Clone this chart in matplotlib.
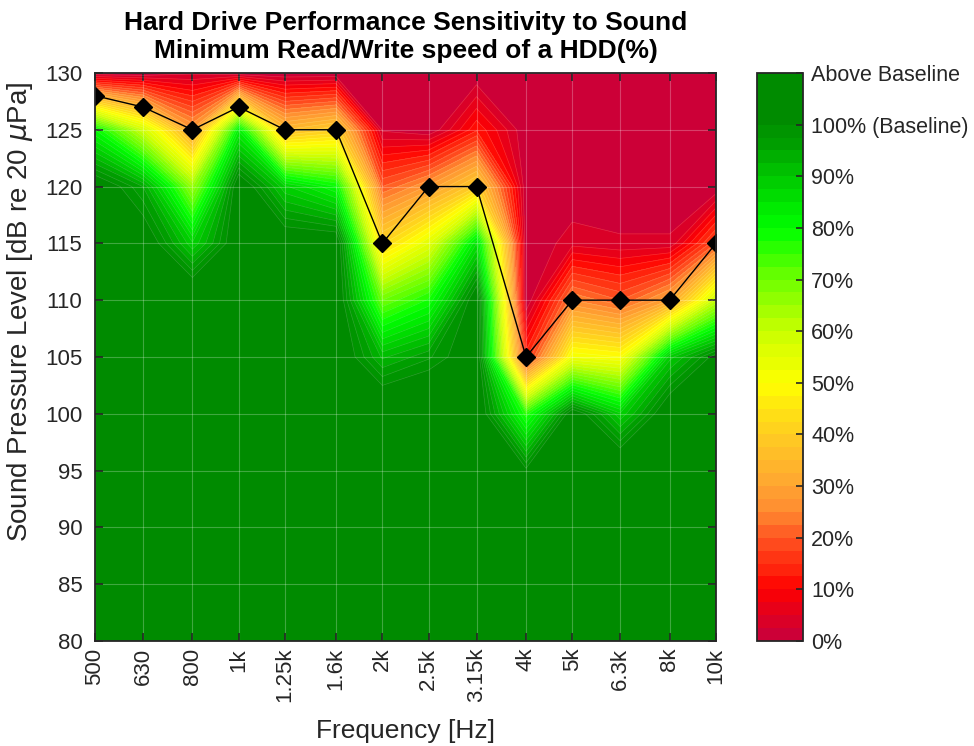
import numpy as np
import matplotlib
matplotlib.use("Agg")
import matplotlib.pyplot as plt
from matplotlib.colors import LinearSegmentedColormap
from matplotlib.ticker import NullLocator

plt.rcParams['font.family'] = ['Liberation Sans', 'DejaVu Sans']

# 1/3-octave bands and sound pressure levels
freqs = [500, 630, 800, 1000, 1250, 1600, 2000, 2500, 3150, 4000, 5000, 6300, 8000, 10000]
freq_labels = ['500', '630', '800', '1k', '1.25k', '1.6k', '2k', '2.5k', '3.15k',
               '4k', '5k', '6.3k', '8k', '10k']
spl = [80, 85, 90, 95, 100, 105, 110, 115, 120, 125, 130]

# minimum read/write speed (% of baseline), one list per frequency, from 80 dB to 130 dB
speed_500 = [105, 105, 105, 105, 105, 105, 105, 105, 105, 80, 0]
speed_630 = [105, 105, 105, 105, 105, 105, 105, 105, 95, 58, 0]
speed_800 = [105, 105, 105, 105, 105, 105, 108, 88, 65, 28, 2]
speed_1k = [105, 105, 105, 105, 105, 105, 105, 105, 105, 82, 0]
speed_1k25 = [105, 105, 105, 105, 105, 105, 105, 105, 88, 35, 0]
speed_1k6 = [105, 105, 105, 105, 105, 105, 105, 105, 80, 40, 0]
speed_2k = [105, 105, 105, 105, 108, 92, 70, 42, 20, 2, 0]
speed_2k5 = [105, 105, 105, 105, 110, 97, 78, 55, 28, 0, 0]
speed_3k15 = [105, 105, 105, 105, 105, 105, 105, 85, 40, 12, 0]
speed_4k = [105, 105, 105, 101, 76, 14, 0, 0, 0, 0, 0]
speed_5k = [105, 105, 105, 105, 104, 52, 25, 4, 0, 0, 0]
speed_6k3 = [105, 105, 105, 108, 88, 50, 20, 3, 0, 0, 0]
speed_8k = [105, 105, 105, 105, 106, 89, 30, 3, 0, 0, 0]
speed_10k = [105, 105, 105, 105, 105, 102, 60, 20, 0, 0, 0]

# minimum level (dB) marked with diamonds
threshold = [128, 127, 125, 127, 125, 125, 115, 120, 120, 105, 110, 110, 110, 115]

columns = [speed_500, speed_630, speed_800, speed_1k, speed_1k25, speed_1k6, speed_2k,
           speed_2k5, speed_3k15, speed_4k, speed_5k, speed_6k3, speed_8k, speed_10k]
Z = np.array(columns).T  # rows = spl, cols = freq

# red -> yellow -> green colour scale, 0..110 %
anchors = [
    (0, '#C8003C'), (5, '#E2001E'), (10, '#FF0000'), (15, '#FF2E10'),
    (20, '#FF5522'), (25, '#FF8A30'), (30, '#FFA632'), (40, '#FFCC22'),
    (50, '#FFFF00'), (60, '#C8FF00'), (70, '#70FF00'), (80, '#00FF00'),
    (90, '#00C800'), (97, '#009C00'), (100, '#009000'), (105, '#008C00'),
    (110, '#007800'),
]
cmap = LinearSegmentedColormap.from_list('hdd', [(v / 110, c) for v, c in anchors])
levels = list(np.arange(0, 100.1, 2.5)) + [110]

fig = plt.figure(figsize=(9.74, 7.46), dpi=100)
ax = fig.add_axes([0.0975, 0.1408, 0.6376, 0.7614])
cax = fig.add_axes([0.777, 0.1408, 0.0472, 0.7614])

cs = ax.contourf(freqs, spl, Z, levels=levels, cmap=cmap, vmin=0, vmax=110)
ax.contour(freqs, spl, Z, levels=levels[1:-1], colors='white', linewidths=0.5, alpha=0.18)
ax.plot(freqs, threshold, color='black', linewidth=1, marker='D',
        markersize=9, markerfacecolor='black', markeredgecolor='black')

ax.set_xscale('log')
ax.set_xlim(500, 10000)
ax.set_ylim(80, 130)
ax.set_xticks(freqs)
ax.set_xticklabels(freq_labels, rotation=90, fontsize=16)
ax.xaxis.set_minor_locator(NullLocator())
ax.set_yticks(np.arange(80, 131, 5))
ax.tick_params(axis='y', labelsize=16, pad=9)
ax.tick_params(axis='x', pad=5)
ax.tick_params(direction='in', top=True, right=True, length=6, width=1.2, colors='#262626')
ax.grid(True, color='white', alpha=0.25, linewidth=0.8)
for s in ax.spines.values():
    s.set_color('#262626')
    s.set_linewidth(1.3)

ax.set_xlabel('Frequency [Hz]', fontsize=19, color='#262626', labelpad=12)
ax.set_ylabel(r'Sound Pressure Level [dB re 20 $\mu$Pa]', fontsize=20, color='#262626')
ax.yaxis.set_label_coords(-0.097, 0.58)
ax.set_title('Hard Drive Performance Sensitivity to Sound\nMinimum Read/Write speed of a HDD(%)',
             fontsize=19, fontweight='bold', linespacing=1.2, pad=11)

cb = fig.colorbar(cs, cax=cax, spacing='proportional')
cb.set_ticks([0, 10, 20, 30, 40, 50, 60, 70, 80, 90, 100, 110])
cb.set_ticklabels(['0%', '10%', '20%', '30%', '40%', '50%', '60%', '70%', '80%', '90%',
                   '100% (Baseline)', 'Above Baseline'])
cb.ax.tick_params(labelsize=15.5, direction='in', length=5, width=1.2, colors='#262626', pad=6)
cb.outline.set_edgecolor('#262626')
cb.outline.set_linewidth(1.3)

fig.savefig('out.png', dpi=100)
